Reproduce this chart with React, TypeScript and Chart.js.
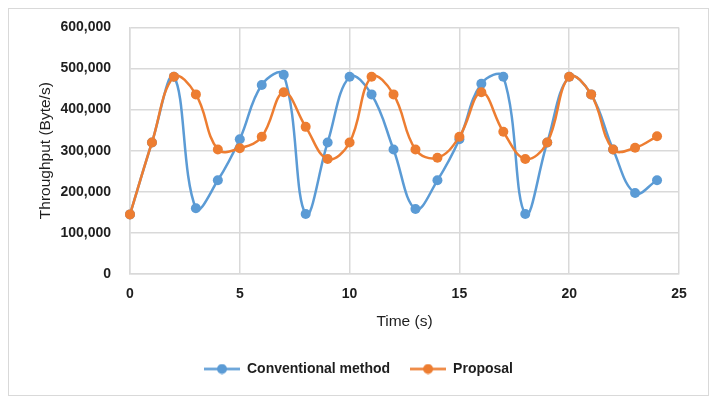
import React, { useEffect, useRef } from "react";
import { Chart, registerables } from "chart.js";

Chart.register(...registerables);

const times = [0, 1, 2, 3, 4, 5, 6, 7, 8, 9, 10, 11, 12, 13, 14, 15, 16, 17, 18, 19, 20, 21, 22, 23, 24];
const conventional = [145000, 320000, 480000, 160000, 228000, 328000, 460000, 485000, 146000, 320000, 480000, 437000, 303000, 158000, 228000, 328000, 463000, 480000, 146000, 320000, 480000, 437000, 303000, 197000, 228000];
const proposal = [145000, 320000, 480000, 437000, 303000, 306000, 334000, 442000, 358000, 280000, 320000, 480000, 437000, 303000, 283000, 334000, 442000, 346000, 280000, 320000, 480000, 437000, 303000, 307000, 335000];
const seriesNames = ["Conventional method", "Proposal"];
const seriesColors = ["#5B9BD5", "#ED7D31"];
const xTitle = "Time (s)";
const yTitle = "Throughput (Byte/s)";

const FONT = "'Liberation Sans', Arial, sans-serif";
const TEXT = "#1e1e1e";
const GRID = "#d9d9d9";

function legendImage(color: string): HTMLCanvasElement {
  const c = document.createElement("canvas");
  c.width = 36;
  c.height = 11;
  const ctx = c.getContext("2d")!;
  ctx.strokeStyle = color;
  ctx.lineWidth = 2.5;
  ctx.beginPath();
  ctx.moveTo(0, 5.5);
  ctx.lineTo(36, 5.5);
  ctx.stroke();
  ctx.fillStyle = color;
  ctx.beginPath();
  ctx.arc(18, 5.5, 5, 0, Math.PI * 2);
  ctx.fill();
  return c;
}

const frame = {
  id: "frame",
  beforeDraw(chart: any) {
    const ctx = chart.ctx;
    ctx.save();
    ctx.fillStyle = "#ffffff";
    ctx.fillRect(0, 0, chart.width, chart.height);
    ctx.strokeStyle = GRID;
    ctx.lineWidth = 1;
    ctx.strokeRect(8.5, 8.5, 700, 387);
    ctx.restore();
  },
};

export default function App() {
  const ref = useRef<HTMLCanvasElement>(null);
  useEffect(() => {
    document.body.style.margin = "0";
    const images = seriesColors.map(legendImage);
    const mk = (vals: number[]) => times.map((t, i) => ({ x: t, y: vals[i] }));
    const chart = new Chart(ref.current!, {
      type: "line",
      data: {
        datasets: [
          {
            label: seriesNames[0],
            data: mk(conventional),
            borderColor: seriesColors[0],
            backgroundColor: seriesColors[0],
            borderWidth: 2.5,
            pointRadius: 5,
            pointBorderWidth: 0,
            tension: 0.4,
            order: 2,
            clip: false,
          },
          {
            label: seriesNames[1],
            data: mk(proposal),
            borderColor: seriesColors[1],
            backgroundColor: seriesColors[1],
            borderWidth: 2.5,
            pointRadius: 5,
            pointBorderWidth: 0,
            tension: 0.4,
            order: 1,
            clip: false,
          },
        ],
      },
      options: {
        responsive: false,
        animation: false,
        layout: { padding: { top: 27, left: 0, right: 0, bottom: 19 } },
        scales: {
          x: {
            type: "linear",
            min: 0,
            max: 25,
            ticks: { stepSize: 5, padding: 12, color: TEXT, font: { family: FONT, size: 14, weight: "bold" } },
            grid: { color: GRID, lineWidth: 1.5, drawTicks: false },
            border: { color: GRID, width: 1.5 },
            title: { display: true, text: xTitle, color: TEXT, font: { family: FONT, size: 15.5 }, padding: { top: 0, bottom: 11 } },
            afterFit: (s: any) => { s.height = 68; },
          },
          y: {
            min: 0,
            max: 600000,
            ticks: {
              stepSize: 100000,
              padding: 19,
              color: TEXT,
              font: { family: FONT, size: 14, weight: "bold" },
              callback: (v: any) => Number(v).toLocaleString("en-US"),
            },
            grid: { color: GRID, lineWidth: 1.5, drawTicks: false },
            border: { color: GRID, width: 1.5 },
            title: { display: true, text: yTitle, color: TEXT, font: { family: FONT, size: 15.5 }, padding: { top: 36, bottom: 0 } },
            afterFit: (s: any) => { s.width = 130; },
          },
          yRight: {
            position: "right",
            display: true,
            ticks: { display: false },
            grid: { display: false },
            border: { display: false },
            afterFit: (s: any) => { s.width = 38; },
          },
        },
        plugins: {
          tooltip: { enabled: false },
          legend: {
            position: "bottom",
            labels: {
              usePointStyle: true,
              pointStyleWidth: 36,
              padding: 20,
              color: TEXT,
              font: { family: FONT, size: 14, weight: "bold" },
              sort: (a: any, b: any) => a.datasetIndex - b.datasetIndex,
              generateLabels: (c: any) => {
                const items = Chart.defaults.plugins.legend.labels.generateLabels(c);
                return items.map((it: any) => ({ ...it, pointStyle: images[it.datasetIndex] }));
              },
            },
          },
        },
      },
      plugins: [frame],
    } as any);
    return () => chart.destroy();
  }, []);
  return (
    <div style={{ position: "absolute", left: 0, top: 0, width: 717, height: 405 }}>
      <canvas ref={ref} width={717} height={405} />
    </div>
  );
}
